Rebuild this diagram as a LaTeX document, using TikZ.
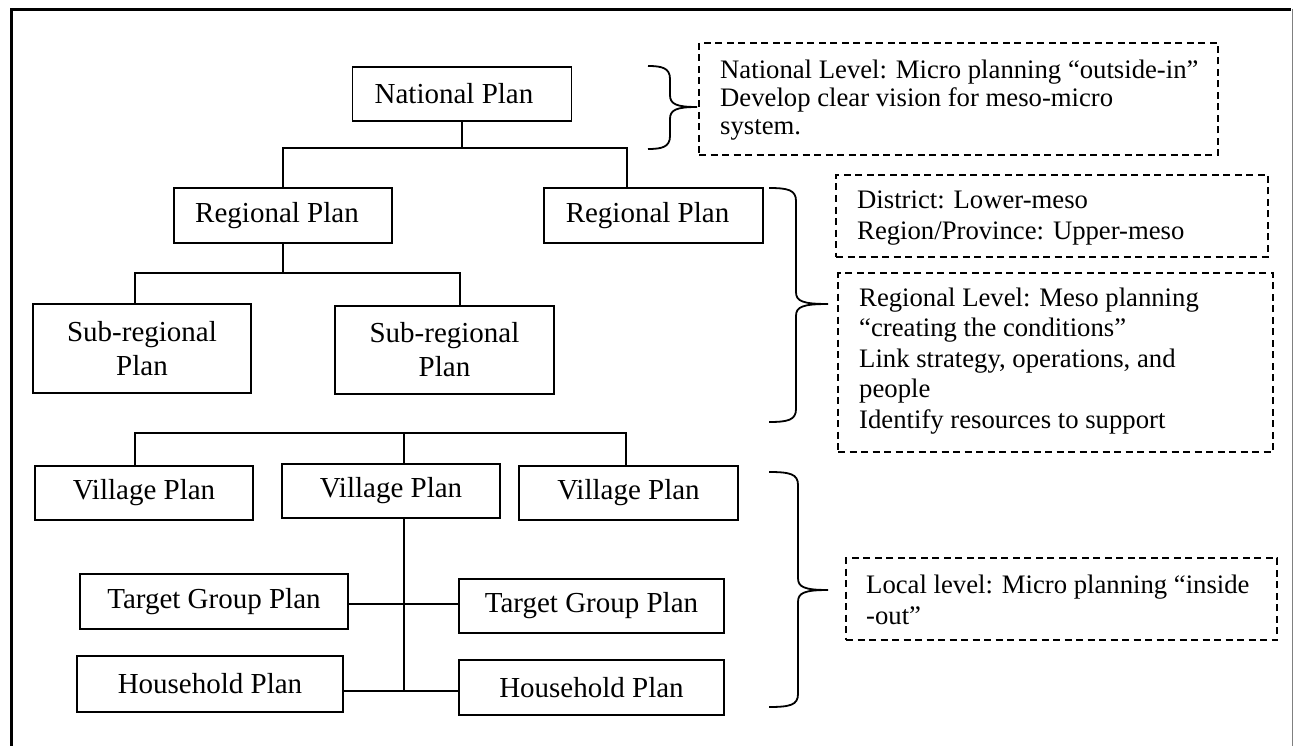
\documentclass[tikz,border=0pt]{standalone}
\usepackage{fontspec}
\setmainfont{Liberation Serif}
\newcommand\mybrace[6]{%
  \draw[bracestyle] (#1,#4) .. controls (#2-8,#4) and (#2,#4+2) .. (#2,#4+13)
    -- (#2,#5-12) .. controls (#2,#5-3) and (#2+6,#5) .. (#3,#5)
    .. controls (#2+6,#5) and (#2,#5+3) .. (#2,#5+12)
    -- (#2,#6-13) .. controls (#2,#6-2) and (#2-8,#6) .. (#1,#6);}
\tikzset{
  plan/.style={draw, line width=1.8pt, inner sep=0pt, align=center,
    font=\fontsize{29}{34}\selectfont},
  conn/.style={line width=1.8pt},
  annbox/.style={draw, line width=1.4pt, dash pattern=on 7pt off 4.5pt, inner sep=0pt},
  anntext/.style={inner sep=0pt, align=left, font=\fontsize{26.7}{30.5}\selectfont},
  bracestyle/.style={line width=1.8pt}
}
\begin{document}
\begin{tikzpicture}[x=1pt,y=-1pt]
\useasboundingbox (0,0) rectangle (1293,746);
% outer frame
\draw[line width=3pt] (11.5,746) -- (11.5,9.5) -- (1291,9.5);
\draw[gray, line width=1pt] (1292,9) -- (1292,746);

% plan boxes
\node[plan, minimum width=219pt, minimum height=54pt] (nat) at (462,94) {\hspace*{-16pt}National Plan};
\node[plan, minimum width=218pt, minimum height=55pt] (regL) at (283,215.5) {\hspace*{-12pt}Regional Plan};
\node[plan, minimum width=219pt, minimum height=55pt] (regR) at (653.5,215.5) {\hspace*{-12pt}Regional Plan};
\node[plan, minimum width=218pt, minimum height=89pt] (subL) at (142,348.5) {Sub-regional\\Plan};
\node[plan, minimum width=219pt, minimum height=88pt] (subR) at (444.5,350) {Sub-regional\\Plan};
\node[plan, minimum width=218pt, minimum height=54pt] (vilL) at (144,493) {Village Plan};
\node[plan, minimum width=218pt, minimum height=54pt] (vilC) at (391,491) {Village Plan};
\node[plan, minimum width=219pt, minimum height=54pt] (vilR) at (628.5,493) {Village Plan};
\node[plan, minimum width=268pt, minimum height=55pt] (tgL) at (214,601.5) {Target Group Plan};
\node[plan, minimum width=265pt, minimum height=54pt] (tgR) at (591.5,606) {Target Group Plan};
\node[plan, minimum width=266pt, minimum height=56pt] (hhL) at (210,684) {Household Plan};
\node[plan, minimum width=265pt, minimum height=55pt] (hhR) at (591.5,687.5) {Household Plan};

% junction coordinates
\coordinate (j1L) at (283,148);
\coordinate (j1R) at (627,148);
\coordinate (j2L) at (135,273);
\coordinate (j2R) at (460,273);
\coordinate (j3L) at (135,433);
\coordinate (j3C) at (404,433);
\coordinate (j3R) at (626,433);
\coordinate (j5) at (404,604);
\coordinate (j4) at (404,691);

% connectors
\draw[conn] (nat.south) -- (nat.south |- j1L);
\draw[conn] (regL.north) -- (j1L) -- (j1R) -- (j1R |- regR.north);
\draw[conn] (regL.south) -- (regL.south |- j2L);
\draw[conn] (j2L |- subL.north) -- (j2L) -- (j2R) -- (j2R |- subR.north);
\draw[conn] (j3L |- vilL.north) -- (j3L) -- (j3R) -- (j3R |- vilR.north);
\draw[conn] (j3C) -- (j3C |- vilC.north);
\draw[conn] (j3C |- vilC.south) -- (j4);
\draw[conn] (tgL.east |- j5) -- (tgR.west |- j5);
\draw[conn] (hhL.east |- j4) -- (hhR.west |- j4);

% braces
\mybrace{648}{670}{697}{66}{107}{149}
\mybrace{769}{796}{828}{188}{304}{422}
\mybrace{769}{798}{828}{472}{590}{707}

% annotation boxes
\node[annbox, minimum width=519pt, minimum height=112pt] (a1) at (958.5,99) {};
\node[anntext, anchor=west, font=\fontsize{26.7}{28}\selectfont] (a1t) at (720,100)
  {National Level: Micro planning “outside-in”\\Develop clear vision for meso-micro\\system.};
\node[annbox, minimum width=432pt, minimum height=82pt] (a2) at (1052,216) {};
\node[anntext, anchor=west] (a2t) at (857,218)
  {District: Lower-meso\\Region/Province: Upper-meso};
\node[annbox, minimum width=435pt, minimum height=179pt] (a3) at (1055.5,362.5) {};
\node[anntext, anchor=west] (a3t) at (859,361)
  {Regional Level: Meso planning\\“creating the conditions”\\Link strategy, operations, and\\people\\Identify resources to support};
\node[annbox, minimum width=431pt, minimum height=82pt] (a4) at (1061.5,599) {};
\node[anntext, anchor=west] (a4t) at (866,600)
  {Local level: Micro planning “inside\\-out”};
\end{tikzpicture}
\end{document}
